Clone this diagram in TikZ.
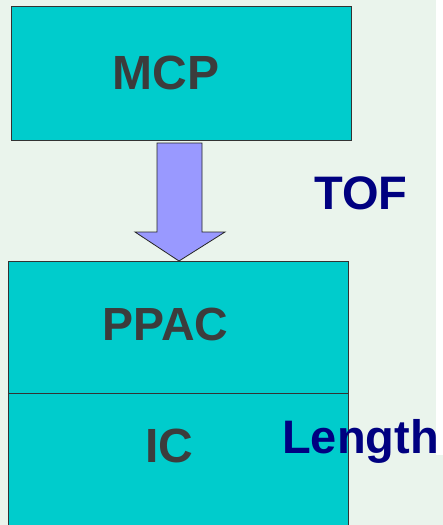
\documentclass[tikz,border=0pt]{standalone}
\usepackage{fontspec}
\setmainfont{Liberation Sans}
\definecolor{bgc}{HTML}{EAF4EC}
\definecolor{teal}{HTML}{00CCCC}
\definecolor{arrowc}{HTML}{9999FF}
\definecolor{txtgray}{HTML}{3C3C3C}
\definecolor{navy}{HTML}{000080}
\begin{document}
\begin{tikzpicture}[x=1pt,y=-1pt,
  detbox/.style={draw=black!80, line width=1pt, fill=teal, inner sep=0pt},
  lbl/.style={anchor=base, inner sep=0pt, text=txtgray, font=\fontsize{48}{54}\selectfont\bfseries},
  side/.style={anchor=base, inner sep=0pt, text=navy, font=\fontsize{47}{54}\selectfont\bfseries}]
\useasboundingbox (0,0) rectangle (443,525);
\fill[white] (0,0) rectangle (443,525);
\fill[bgc] (0,0) rectangle (436,455);
\fill[bgc] (0,455) rectangle (443,525);
% boxes
\node[detbox, minimum width=340pt, minimum height=134pt] (mcp) at (181,73) {};
\node[detbox, minimum width=340pt, minimum height=132pt] (ppac) at (178,327) {};
\node[detbox, minimum width=340pt, minimum height=136pt] (ic) at (178,461) {};
% arrow from MCP to PPAC
\coordinate (atip) at (179,261);
\draw[fill=arrowc, draw=black!85, line width=0.8pt]
  (157,143) -- (202,143) -- (202,232) -- (225,232) -- (atip) -- (135,232) -- (157,232) -- cycle;
% labels
\node[lbl] (tmcp) at (166,89) {MCP};
\node[lbl, font=\fontsize{46.5}{52}\selectfont\bfseries] (tppac) at (165.5,340.5) {PPAC};
\node[lbl] (tic) at (169.5,462) {IC};
\node[side] (ttof) at (361,209) {TOF};
\node[side] (tlen) at (360.5,453) {Length};
\end{tikzpicture}
\end{document}
